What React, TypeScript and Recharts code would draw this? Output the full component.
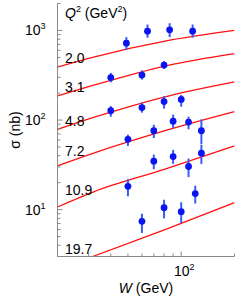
import React from 'react';
import { ComposedChart, Line, Scatter, ErrorBar, XAxis, YAxis } from 'recharts';

// Q^2 bins (GeV^2), top to bottom
const q2Labels = ['2.0', '3.1', '4.8', '7.2', '10.9', '19.7'];

// measured points: W (GeV), sigma (nb), error bar ends
const w20 = [49, 64.5, 86, 116];
const s20 = [722, 982, 1018, 982];
const lo20 = [610, 830, 843, 830];
const hi20 = [843, 1166, 1206, 1166];

const w31 = [40, 60, 80];
const s31 = [298, 318, 411];
const lo31 = [264, 283, 372];
const hi31 = [336, 359, 456];

const w48 = [40, 60, 80, 100];
const s48 = [127, 138, 161, 170];
const lo48 = [109, 121, 134, 141];
const hi48 = [143, 156, 185, 191];

const w72 = [50, 70, 90, 110, 130];
const s72 = [61, 76, 97, 95, 76];
const lo72 = [51.4, 63, 81.5, 78.9, 54];
const hi72 = [68.7, 88.7, 115, 109, 102];

const w109 = [50, 70, 90, 110, 130];
const s109 = [18.2, 34.8, 39.1, 30.3, 42.7];
const lo109 = [14.1, 28.3, 32.4, 23.1, 32.4];
const hi109 = [21.9, 41.2, 46.4, 37.2, 53.2];

const w197 = [60, 80, 100, 120];
const s197 = [7.4, 10.5, 9.5, 15.1];
const lo197 = [5.5, 8.0, 7.1, 11.7];
const hi197 = [9.0, 12.9, 12.1, 18.5];

// fit curves (red)
const fitW = [20, 32, 81, 200];
const fit20 = [391, 505, 760, 1000];
const fit31 = [186, 245, 401, 551];
const fit48 = [78.8, 107, 182, 267];
const fit72 = [30.8, 42.7, 76, 124];
const fit109 = [10.7, 15.8, 28.3, 51.4];
const fitW197 = [31.6, 81, 200];
const fit197 = [3.0, 6.0, 12.0];

// axis ticks
const xTicks = [20, 30, 40, 50, 60, 70, 80, 90, 100, 200];
const yTicks = [
  3, 4, 5, 6, 7, 8, 9, 10, 20, 30, 40, 50, 60, 70, 80, 90,
  100, 200, 300, 400, 500, 600, 700, 800, 900, 1000, 2000,
];

const font = '"Liberation Sans", Arial, Helvetica, sans-serif';
const gray = '#8a8a8a';
const blue = '#0a14ee';
const barBlue = '#3a5cf6';
const red = '#ff1010';

const points = [
  [w20, s20, lo20, hi20],
  [w31, s31, lo31, hi31],
  [w48, s48, lo48, hi48],
  [w72, s72, lo72, hi72],
  [w109, s109, lo109, hi109],
  [w197, s197, lo197, hi197],
].map(([w, s, lo, hi]) =>
  w.map((x, i) => ({ x, y: s[i], err: [s[i] - lo[i], hi[i] - s[i]] }))
);

const fits = [
  [fitW, fit20],
  [fitW, fit31],
  [fitW, fit48],
  [fitW, fit72],
  [fitW, fit109],
  [fitW197, fit197],
].map(([w, s]) => w.map((x, i) => ({ x, y: s[i] })));

const isMajor = (v: number) => Math.abs(Math.log10(v) - Math.round(Math.log10(v))) < 1e-9;

const LeftTick = ({ x, y, payload }: any) => {
  const v = payload.value;
  const major = isMajor(v);
  return (
    <g>
      <line x1={x} x2={x + (major ? 5 : 3)} y1={y} y2={y} stroke={gray} />
      {major && (
        <text x={x - 12} y={y + 5} textAnchor="end" fontSize={14} fontFamily={font} fill="#000">
          10<tspan dy={-6} fontSize={9}>{Math.round(Math.log10(v))}</tspan>
        </text>
      )}
    </g>
  );
};

const RightTick = ({ x, y, payload }: any) => (
  <line x1={x} x2={x - (isMajor(payload.value) ? 5 : 3)} y1={y} y2={y} stroke={gray} />
);

const BottomTick = ({ x, y, payload }: any) => {
  const v = payload.value;
  const major = isMajor(v) && v === 100;
  return (
    <g>
      <line x1={x} x2={x} y1={y} y2={y - (major ? 5 : 3)} stroke={gray} />
      {major && (
        <text x={x + 3} y={y + 19} textAnchor="middle" fontSize={14} fontFamily={font} fill="#000">
          10<tspan dy={-6} fontSize={9}>2</tspan>
        </text>
      )}
    </g>
  );
};

const TopTick = ({ x, y, payload }: any) => (
  <line x1={x} x2={x} y1={y} y2={y + (payload.value === 100 ? 5 : 3)} stroke={gray} />
);

const Dot = ({ cx, cy }: any) => <circle cx={cx} cy={cy} r={3.4} fill={blue} />;

const labelY = [63, 92, 126, 156, 195, 254];

const App = () => {
  return (
    <div style={{ position: 'absolute', left: 0, top: 0, width: 249, height: 300 }}>
      <ComposedChart
        width={249}
        height={300}
        margin={{ top: 3.5, right: 14.5, bottom: 13.5, left: 7.5 }}
      >
        <XAxis
          xAxisId={0}
          dataKey="x"
          type="number"
          scale="log"
          domain={[20, 200]}
          allowDataOverflow
          ticks={xTicks}
          interval={0}
          height={30}
          tickSize={0}
          tickMargin={0}
          tickLine={false}
          axisLine={{ stroke: gray }}
          tick={<BottomTick />}
        />
        <XAxis
          xAxisId="top"
          orientation="top"
          dataKey="x"
          type="number"
          scale="log"
          domain={[20, 200]}
          allowDataOverflow
          ticks={xTicks}
          interval={0}
          height={0}
          tickSize={0}
          tickMargin={0}
          tickLine={false}
          axisLine={{ stroke: gray }}
          tick={<TopTick />}
        />
        <YAxis
          yAxisId={0}
          type="number"
          scale="log"
          domain={[3, 2000]}
          allowDataOverflow
          ticks={yTicks}
          interval={0}
          width={50}
          tickSize={0}
          tickMargin={0}
          tickLine={false}
          axisLine={{ stroke: gray }}
          tick={<LeftTick />}
        />
        <YAxis
          yAxisId="right"
          orientation="right"
          type="number"
          scale="log"
          domain={[3, 2000]}
          allowDataOverflow
          ticks={yTicks}
          interval={0}
          width={0}
          tickSize={0}
          tickMargin={0}
          tickLine={false}
          axisLine={{ stroke: gray }}
          tick={<RightTick />}
        />
        {fits.map((d, i) => (
          <Line
            key={'fit' + i}
            data={d}
            dataKey="y"
            type="monotone"
            stroke={red}
            strokeWidth={1.3}
            dot={false}
            isAnimationActive={false}
          />
        ))}
        {points.map((d, i) => (
          <Scatter
            key={'pts' + i}
            data={d}
            dataKey="y"
            shape={<Dot />}
            isAnimationActive={false}
          >
            <ErrorBar dataKey="err" direction="y" width={0} stroke={barBlue} strokeWidth={2} />
          </Scatter>
        ))}
      </ComposedChart>
      <svg
        width={249}
        height={300}
        style={{ position: 'absolute', left: 0, top: 0, pointerEvents: 'none' }}
      >
        <text x={65} y={18} fontSize={14} fontFamily={font} fill="#000">
          <tspan fontStyle="italic">Q</tspan>
          <tspan dy={-6} fontSize={9}>2</tspan>
          <tspan dy={6}> (GeV</tspan>
          <tspan dy={-6} fontSize={9}>2</tspan>
          <tspan dy={6}>)</tspan>
        </text>
        {q2Labels.map((t, i) => (
          <text key={t} x={65} y={labelY[i]} fontSize={14} fontFamily={font} fill="#000">
            {t}
          </text>
        ))}
        <text
          x={0}
          y={0}
          transform="translate(20,130) rotate(-90)"
          textAnchor="middle"
          fontSize={14}
          fontFamily={font}
          fill="#000"
        >
          σ (nb)
        </text>
        <text x={146} y={293} textAnchor="middle" fontSize={14} fontFamily={font} fill="#000">
          <tspan fontStyle="italic">W</tspan> (GeV)
        </text>
      </svg>
    </div>
  );
};

export default App;
